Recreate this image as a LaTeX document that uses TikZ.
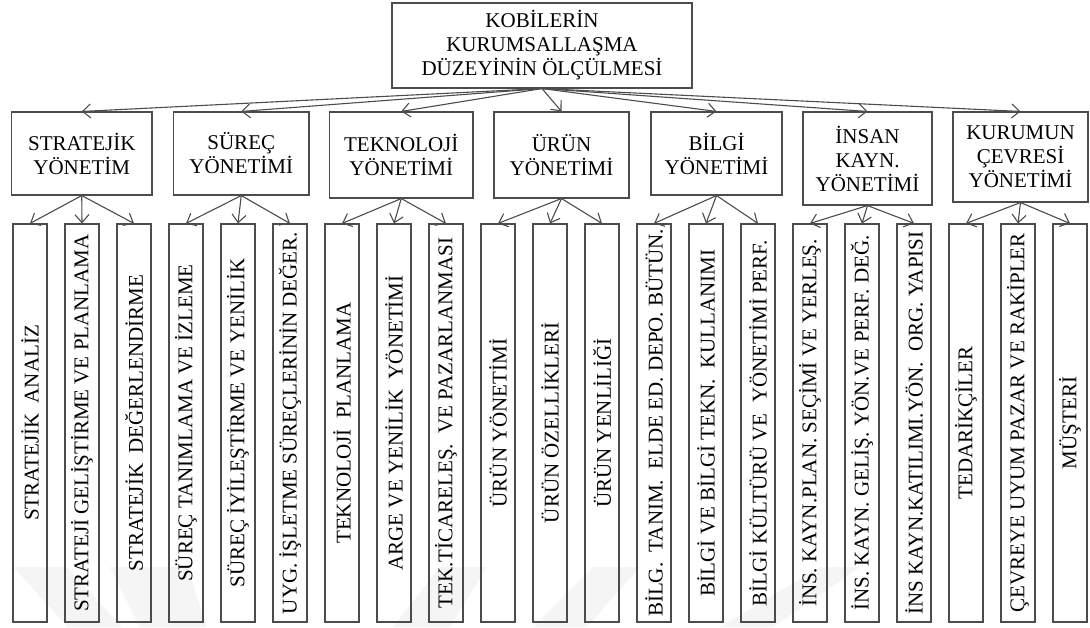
\documentclass[tikz,border=0pt]{standalone}
\usepackage{fontspec}
\setmainfont{Liberation Serif}
\usetikzlibrary{arrows.meta}
\tikzset{
  box/.style={draw=black!70, line width=1.1pt, inner sep=0pt, align=center,
    font=\fontsize{21pt}{24pt}\selectfont},
  leaf/.style={box, minimum width=34pt, minimum height=398pt},
  arr/.style={draw=black!70, line width=1.1pt, -{Straight Barb[length=8pt,width=14pt,line width=1.1pt]}},
  wm/.style={fill=black!4, draw=none}
}
\newcommand{\vt}[1]{\rotatebox{90}{#1}}
\begin{document}
\begin{tikzpicture}[x=1pt,y=-1pt]
\useasboundingbox (0,0) rectangle (1090,627);
% faint watermark
\fill[wm] (13,567) -- (67,567) -- (122,627) -- (68,627) -- cycle;
\fill[wm] (110,567) -- (187,567) -- (207,627) -- (140,627) -- cycle;
\fill[wm] (440,567) -- (487,567) -- (450,627) -- (393,627) -- cycle;
\fill[wm] (593,567) -- (640,567) -- (587,627) -- (533,627) -- cycle;
\fill[wm] (820,567) -- (860,567) -- (773,627) -- (720,627) -- cycle;
% top
\node[box, minimum width=300pt, minimum height=85pt] (top) at (542,45.5)
  {KOBİLERİN\\KURUMSALLAŞMA\\DÜZEYİNİN ÖLÇÜLMESİ};
% categories
\node[box, minimum width=140.5pt, minimum height=83pt] (c1) at (81.75,153.5) {STRATEJİK\\YÖNETİM};
\node[box, minimum width=135.5pt, minimum height=83pt] (c2) at (241.25,153.5) {SÜREÇ\\YÖNETİMİ};
\node[box, minimum width=143.5pt, minimum height=86pt] (c3) at (401.25,155) {TEKNOLOJİ\\YÖNETİMİ};
\node[box, minimum width=135pt, minimum height=86pt] (c4) at (561.5,155) {ÜRÜN\\YÖNETİMİ};
\node[box, minimum width=131pt, minimum height=83pt] (c5) at (716.5,153.5) {BİLGİ\\YÖNETİMİ};
\node[box, minimum width=129pt, minimum height=93pt] (c6) at (867.5,158.5) {İNSAN\\KAYN.\\YÖNETİMİ};
\node[box, minimum width=135pt, minimum height=90pt] (c7) at (1020.5,157) {KURUMUN\\ÇEVRESİ\\YÖNETİMİ};
% leaves
\node[leaf] (l1) at (30,423) {\vt{STRATEJİK~~ANALİZ}};
\node[leaf] (l2) at (82,423) {\vt{STRATEJİ GELİŞTİRME VE PLANLAMA}};
\node[leaf] (l3) at (134,423) {\vt{STRATEJİK~~DEĞERLENDİRME}};
\node[leaf] (l4) at (186,423) {\vt{SÜREÇ TANIMLAMA VE İZLEME}};
\node[leaf] (l5) at (238,423) {\vt{SÜREÇ İYİLEŞTİRME VE YENİLİK}};
\node[leaf] (l6) at (290,423) {\vt{UYG. İŞLETME SÜREÇLERİNİN DEĞER.}};
\node[leaf] (l7) at (342,423) {\vt{TEKNOLOJİ~~PLANLAMA}};
\node[leaf] (l8) at (394,423) {\vt{ARGE VE YENİLİK~~YÖNETİMİ}};
\node[leaf] (l9) at (446,423) {\vt{TEK.TİCARELEŞ.~~VE PAZARLANMASI}};
\node[leaf] (l10) at (498,423) {\vt{ÜRÜN YÖNETİMİ}};
\node[leaf] (l11) at (550,423) {\vt{ÜRÜN ÖZELLİKLERİ}};
\node[leaf] (l12) at (602,423) {\vt{ÜRÜN YENLİLİĞİ}};
\node[leaf] (l13) at (654,423) {\vt{BİLG.~~TANIM.~~ELDE ED. DEPO. BÜTÜN.}};
\node[leaf] (l14) at (706,423) {\vt{BİLGİ VE BİLGİ TEKN.~~KULLANIMI}};
\node[leaf] (l15) at (758,423) {\vt{BİLGİ KÜLTÜRÜ VE~~YÖNETİMİ PERF.}};
\node[leaf] (l16) at (810,423) {\vt{İNS. KAYN.PLAN. SEÇİMİ VE YERLEŞ.}};
\node[leaf] (l17) at (862,423) {\vt{İNS. KAYN. GELİŞ. YÖN.VE PERF. DEĞ.}};
\node[leaf] (l18) at (914,423) {\vt{İNS KAYN.KATILIMI.YÖN.~~ORG. YAPISI}};
\node[leaf] (l19) at (966,423) {\vt{TEDARİKÇİLER}};
\node[leaf] (l20) at (1018,423) {\vt{ÇEVREYE UYUM PAZAR VE RAKİPLER}};
\node[leaf] (l21) at (1070,423) {\vt{MÜŞTERİ}};
% connectors
\foreach \c in {1,...,7} {\draw[arr] (top.south) -- (c\c.north);}
\foreach \c/\a/\b/\d in {1/1/2/3, 2/4/5/6, 3/7/8/9, 4/10/11/12, 5/13/14/15, 6/16/17/18, 7/19/20/21} {
  \draw[arr] (c\c.south) -- (l\a.north);
  \draw[arr] (c\c.south) -- (l\b.north);
  \draw[arr] (c\c.south) -- (l\d.north);
}
\end{tikzpicture}
\end{document}
